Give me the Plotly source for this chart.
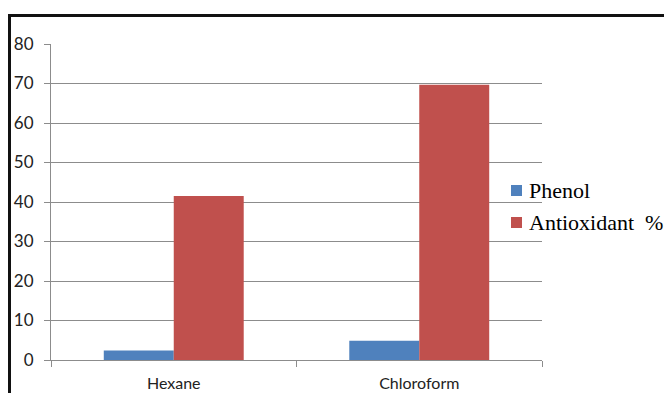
import plotly.graph_objects as go

categories = ["Hexane", "Chloroform"]
phenol = [2.4, 4.9]
antioxidant = [41.5, 69.7]
series_names = ["Phenol", "Antioxidant  %"]
series_colors = ["#4F81BD", "#C0504D"]

# page body has an 8px margin, so figure coords = screen coords - 8
OFF = 8
W, H = 672, 393
L, R, T, B = 43, 138, 36, 41
pw, ph = W - L - R, H - T - B

def px_x(x):
    return (x - OFF - L) / pw

def px_y(y):
    return (H - B - (y - OFF)) / ph

fig = go.Figure()
fig.add_trace(go.Bar(x=categories, y=phenol, name=series_names[0],
                     marker=dict(color=series_colors[0], line=dict(width=0))))
fig.add_trace(go.Bar(x=categories, y=antioxidant, name=series_names[1],
                     marker=dict(color=series_colors[1], line=dict(width=0))))

shapes = [
    dict(type="line", xref="paper", yref="paper",
         x0=px_x(8.5), x1=px_x(690), y0=px_y(15.5), y1=px_y(15.5),
         line=dict(color="#111111", width=3)),
    dict(type="line", xref="paper", yref="paper",
         x0=px_x(9.5), x1=px_x(9.5), y0=px_y(14), y1=px_y(410),
         line=dict(color="#111111", width=3)),
]
annotations = []
legend_y = [190.5, 222.5]
for name, col, yc in zip(series_names, series_colors, legend_y):
    shapes.append(dict(type="rect", xref="paper", yref="paper",
                       x0=px_x(511), x1=px_x(522), y0=px_y(yc - 5.5), y1=px_y(yc + 5.5),
                       fillcolor=col, line=dict(width=0)))
    annotations.append(dict(xref="paper", yref="paper", x=px_x(527), y=px_y(yc),
                            xanchor="left", yanchor="middle", showarrow=False,
                            text=name.replace("  ", "&nbsp; "),
                            font=dict(family="Liberation Serif", size=22, color="#000000")))

fig.update_layout(
    width=W, height=H,
    margin=dict(l=L, r=R, t=T, b=B, pad=0),
    paper_bgcolor="white", plot_bgcolor="white",
    barmode="group", bargap=0.43, bargroupgap=0,
    font=dict(family="Lato", size=16, color="#222222"),
    showlegend=False,
    xaxis=dict(showgrid=False, showline=True, linecolor="#8C8C8C", linewidth=1,
               ticks="outside", tickson="boundaries", ticklen=6, tickcolor="#8C8C8C",
               ticklabelstandoff=9, automargin=False,
               tickfont=dict(family="Lato", size=16, color="#222222")),
    yaxis=dict(range=[0, 80], dtick=10, showgrid=True, gridcolor="#8C8C8C", gridwidth=1,
               showline=True, linecolor="#8C8C8C", linewidth=1, zeroline=False,
               ticks="outside", ticklen=6, tickcolor="#8C8C8C",
               ticklabelstandoff=7, automargin=False,
               tickfont=dict(family="Lato", size=17, color="#222222")),
    shapes=shapes,
    annotations=annotations,
)

fig.write_html("out.html")
